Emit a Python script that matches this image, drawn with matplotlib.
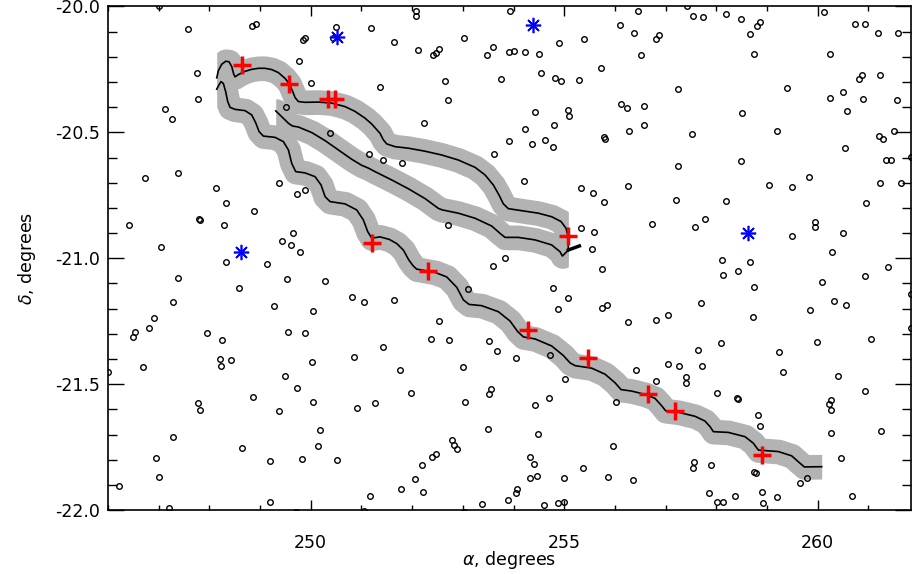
import numpy as np
import matplotlib.pyplot as plt
from matplotlib.ticker import MultipleLocator, FormatStrFormatter

# field stars (open circles), RA / Dec in degrees
star_ra = [
    247.00, 247.57, 248.85, 248.93, 250.49, 250.43, 251.18, 249.84, 249.88, 249.76,
    247.75, 250.01, 247.77, 247.13, 247.26, 249.52, 250.39, 251.14, 246.73, 247.39,
    248.14, 249.38, 249.89, 249.73, 248.33, 248.89, 247.79, 247.81, 246.41, 248.28,
    249.66, 249.43, 249.61, 249.78, 247.04,
    248.33, 249.13, 247.39, 249.53, 250.28, 248.59, 247.28, 249.27, 250.82, 251.05,
    250.04, 246.90, 246.81, 246.53, 246.50, 247.96, 248.26, 249.55, 249.88, 248.22,
    248.24, 248.43, 246.70, 246.01, 250.02, 250.85, 249.50, 249.73, 248.86, 247.77,
    247.82, 249.38, 250.05, 250.91, 251.26, 250.19, 247.28, 250.14, 248.65, 246.94,
    249.19, 249.83, 250.52, 247.00, 246.21, 249.19, 247.20, 249.70, 251.05, 251.17,
    252.07, 252.08, 253.93, 256.45, 256.10, 256.37, 256.51, 251.65, 252.12, 253.03,
    252.41, 252.48, 252.54, 253.48, 253.60, 253.92, 254.00, 254.22, 254.51, 254.90,
    255.39, 255.73, 254.54, 254.81, 254.93, 255.30, 253.76, 252.64, 251.37, 252.70,
    252.23, 254.42, 255.08, 255.09, 256.12, 256.23, 256.58, 256.57, 254.22, 254.79,
    256.28, 253.92, 254.36, 254.63, 254.77, 255.79, 255.81, 253.61, 251.43, 251.81,
    254.20, 255.34, 255.56, 255.78, 256.25, 252.71, 255.33, 255.59, 255.54, 253.83,
    257.43, 257.54, 257.73, 258.19, 258.48, 258.87, 258.81, 258.66, 258.74, 260.12,
    260.74, 260.93, 261.18, 261.59, 256.81, 256.86, 260.24, 260.87, 260.82, 261.22,
    257.25, 259.40, 260.24, 260.50, 260.89, 261.57, 260.57, 258.50, 257.53, 259.19,
    261.20, 261.29, 261.50, 260.53, 261.85, 261.35, 261.45, 257.24, 258.48, 259.83,
    259.04, 259.49, 261.23, 261.64, 257.20, 258.19, 260.95, 256.74, 257.58, 257.77,
    259.50, 259.95, 259.94, 260.49, 260.28, 258.11,
    253.60, 255.74, 254.78, 255.08, 254.87, 255.74, 255.85, 256.26, 253.11, 251.65,
    252.53, 252.37, 252.73, 251.43, 253.52, 253.68, 254.04, 254.71, 251.77, 253.01,
    255.02, 256.42, 251.97, 253.55, 253.51, 253.04, 254.43, 254.70, 256.02, 253.50,
    254.49, 252.79, 252.82, 252.89, 252.19, 252.40, 252.47, 252.05, 251.78, 252.22,
    254.33, 254.40, 254.33, 254.46, 254.99, 255.38, 255.96, 255.87, 256.35, 254.06,
    254.04, 253.90, 253.38, 254.60, 254.88, 255.00, 253.03,
    258.66, 258.43, 258.13, 258.75, 257.69, 257.05, 256.82, 258.73, 258.09, 257.64,
    257.05, 257.26, 257.71, 257.40, 257.40, 256.81, 258.02, 258.40, 258.43, 258.82,
    258.86, 259.24, 259.32, 260.08, 259.85, 260.32, 260.56, 260.93, 261.38, 261.84,
    261.85, 259.99, 261.06, 260.41, 260.94, 260.26, 260.23, 260.27, 260.27, 261.25,
    260.45, 257.56, 257.55, 257.89, 258.74, 258.79, 259.79, 259.65, 257.86, 258.02,
    258.13, 258.36, 258.91, 258.92, 259.19, 260.68,
]
star_dec = [
    -20.000, -20.089, -20.079, -20.069, -20.082, -20.127, -20.086, -20.135, -20.124, -20.217,
    -20.266, -20.306, -20.369, -20.406, -20.447, -20.399, -20.501, -20.585, -20.683, -20.660,
    -20.721, -20.701, -20.728, -20.746, -20.782, -20.811, -20.845, -20.849, -20.869, -20.866,
    -20.898, -20.933, -20.947, -20.974, -20.954,
    -21.015, -21.024, -21.078, -21.082, -21.089, -21.117, -21.175, -21.188, -21.152, -21.173,
    -21.208, -21.236, -21.277, -21.291, -21.312, -21.298, -21.323, -21.291, -21.297, -21.401,
    -21.426, -21.404, -21.431, -21.451, -21.412, -21.393, -21.467, -21.515, -21.549, -21.576,
    -21.603, -21.607, -21.569, -21.593, -21.576, -21.680, -21.708, -21.745, -21.751, -21.792,
    -21.806, -21.795, -21.799, -21.869, -21.905, -21.966, -21.992, -22.005, -22.003, -21.945,
    -20.019, -20.040, -20.020, -20.020, -20.074, -20.107, -20.193, -20.142, -20.172, -20.126,
    -20.194, -20.184, -20.168, -20.193, -20.163, -20.183, -20.177, -20.180, -20.189, -20.145,
    -20.131, -20.246, -20.266, -20.283, -20.296, -20.294, -20.287, -20.295, -20.319, -20.372,
    -20.462, -20.419, -20.413, -20.434, -20.388, -20.402, -20.394, -20.472, -20.487, -20.472,
    -20.495, -20.533, -20.548, -20.529, -20.557, -20.517, -20.528, -20.585, -20.611, -20.623,
    -20.694, -20.722, -20.742, -20.775, -20.714, -20.866, -20.878, -20.894, -20.963, -20.998,
    -19.998, -20.037, -20.042, -20.029, -20.049, -20.061, -20.079, -20.110, -20.189, -20.024,
    -20.071, -20.071, -20.107, -20.107, -20.130, -20.112, -20.190, -20.271, -20.287, -20.272,
    -20.329, -20.324, -20.365, -20.340, -20.366, -20.373, -20.415, -20.423, -20.508, -20.493,
    -20.515, -20.528, -20.495, -20.563, -20.597, -20.611, -20.611, -20.635, -20.615, -20.679,
    -20.709, -20.717, -20.702, -20.702, -20.767, -20.771, -20.780, -20.865, -20.877, -20.845,
    -20.913, -20.854, -20.876, -20.899, -20.975, -21.006,
    -21.031, -21.042, -21.119, -21.157, -21.203, -21.199, -21.185, -21.251, -21.123, -21.166,
    -21.248, -21.320, -21.326, -21.353, -21.327, -21.368, -21.397, -21.384, -21.442, -21.433,
    -21.478, -21.443, -21.534, -21.520, -21.540, -21.572, -21.584, -21.554, -21.569, -21.679,
    -21.697, -21.720, -21.741, -21.755, -21.822, -21.790, -21.775, -21.877, -21.917, -21.929,
    -21.789, -21.818, -21.871, -21.863, -21.873, -21.834, -21.744, -21.867, -21.880, -21.915,
    -21.930, -21.960, -21.976, -21.980, -21.971, -21.967, -22.005,
    -21.015, -21.049, -21.068, -21.113, -21.179, -21.224, -21.246, -21.233, -21.338, -21.363,
    -21.418, -21.426, -21.429, -21.470, -21.495, -21.486, -21.535, -21.556, -21.558, -21.620,
    -21.667, -21.373, -21.452, -21.094, -21.205, -21.169, -21.187, -21.072, -21.033, -21.142,
    -21.278, -21.332, -21.319, -21.466, -21.525, -21.562, -21.579, -21.601, -21.692, -21.685,
    -21.794, -21.807, -21.832, -21.820, -21.847, -21.853, -21.872, -21.892, -21.931, -21.968,
    -21.968, -21.944, -21.929, -21.971, -21.948, -21.943,
]

# reference stars (blue asterisks)
ref_ra = [250.51, 254.38, 248.62, 258.63]
ref_dec = [-20.120, -20.074, -20.976, -20.901]

# measured positions (red crosses)
obs_ra = [248.65, 249.58, 250.34, 250.48, 251.20, 252.31, 254.28, 255.46, 256.65, 257.19, 258.91, 255.07]
obs_dec = [-20.234, -20.308, -20.369, -20.369, -20.938, -21.049, -21.283, -21.397, -21.537, -21.605, -21.780, -20.910]

# the three predicted tracks
track1_ra = [248.146, 248.179, 248.245, 248.323, 248.389, 248.442, 248.481, 248.508, 248.573, 248.705,
             248.836, 248.968, 249.099, 249.231, 249.362, 249.494, 249.579, 249.638, 249.691, 249.757,
             249.888, 250.151, 250.414, 250.677, 250.874, 251.072, 251.203, 251.367, 251.433, 251.499,
             251.663, 251.926, 252.255, 252.583, 252.912, 253.241, 253.438, 253.602, 253.714, 253.800,
             253.898, 254.161, 254.490, 254.753, 254.937, 255.036, 255.068, 255.082]
track1_dec = [-20.284, -20.255, -20.230, -20.218, -20.220, -20.239, -20.269, -20.280, -20.271, -20.258,
              -20.250, -20.246, -20.246, -20.251, -20.263, -20.286, -20.308, -20.335, -20.362, -20.378,
              -20.381, -20.380, -20.384, -20.398, -20.417, -20.444, -20.467, -20.504, -20.530, -20.546,
              -20.557, -20.563, -20.575, -20.590, -20.610, -20.639, -20.669, -20.709, -20.749, -20.784,
              -20.803, -20.811, -20.821, -20.835, -20.854, -20.881, -20.907, -20.960]

track2_ra = [249.310, 249.428, 249.560, 249.638, 249.757, 250.020, 250.283, 250.546, 250.809, 251.006,
             251.137, 251.268, 251.597, 251.926, 252.255, 252.518, 252.597, 252.912, 253.241, 253.570,
             253.734, 253.833, 254.096, 254.425, 254.753, 254.918, 254.964, 255.082]
track2_dec = [-20.415, -20.438, -20.464, -20.475, -20.479, -20.501, -20.533, -20.570, -20.607, -20.631,
              -20.642, -20.656, -20.689, -20.724, -20.763, -20.802, -20.808, -20.821, -20.841, -20.872,
              -20.901, -20.917, -20.917, -20.927, -20.947, -20.974, -20.991, -20.967]

track3_ra = [248.146, 248.179, 248.231, 248.277, 248.323, 248.363, 248.409, 248.508, 248.705, 248.836,
             248.915, 248.981, 249.066, 249.297, 249.461, 249.560, 249.625, 249.704, 249.888, 250.085,
             250.204, 250.283, 250.381, 250.677, 250.907, 251.039, 251.124, 251.203, 251.367, 251.550,
             251.700, 251.830, 251.930, 252.020, 252.091, 252.453, 252.683, 252.880, 253.011, 253.123,
             253.373, 253.702, 253.932, 254.083, 254.195, 254.425, 254.753, 254.984, 255.115, 255.214,
             255.543, 255.806, 256.003, 256.121, 256.332, 256.594, 256.791, 256.909, 257.001, 257.251,
             257.580, 257.777, 257.876, 257.942, 258.238, 258.567, 258.731, 258.830, 259.224, 259.487,
             259.632, 259.737, 260.079]
track3_dec = [-20.329, -20.316, -20.299, -20.306, -20.339, -20.378, -20.401, -20.409, -20.414, -20.431,
              -20.462, -20.497, -20.515, -20.520, -20.537, -20.570, -20.623, -20.656, -20.661, -20.676,
              -20.709, -20.755, -20.775, -20.784, -20.808, -20.848, -20.894, -20.920, -20.915, -20.925,
              -20.942, -20.968, -21.005, -21.030, -21.043, -21.056, -21.074, -21.115, -21.165, -21.183,
              -21.188, -21.212, -21.249, -21.291, -21.312, -21.320, -21.348, -21.386, -21.415, -21.426,
              -21.436, -21.460, -21.494, -21.521, -21.527, -21.540, -21.556, -21.582, -21.605, -21.611,
              -21.627, -21.646, -21.668, -21.688, -21.691, -21.708, -21.734, -21.761, -21.767, -21.784,
              -21.810, -21.828, -21.827]

# little black stub where tracks 1 and 2 meet at the end
stub_ra = [255.082, 255.299]
stub_dec = [-20.967, -20.951]

# half size of the error ellipse that makes the grey band (deg)
band_dx = 0.24
band_dy = 0.049


def band_edges(ra, dec, dx, dy, n=2000, m=81):
    # sweep an ellipse along the track -> upper / lower envelope
    # the band is cut straight at both ends of the track
    ra = np.asarray(ra)
    dec = np.asarray(dec)
    xs = np.linspace(ra[0], ra[-1], n)
    up = np.full(n, -np.inf)
    lo = np.full(n, np.inf)
    for u in np.linspace(-dx, dx, m):
        yy = np.interp(xs + u, ra, dec, left=np.nan, right=np.nan)
        h = dy * np.sqrt(max(0.0, 1 - (u / dx) ** 2))
        up = np.fmax(up, yy + h)
        lo = np.fmin(lo, yy - h)
    return xs, lo, up


fig = plt.figure(figsize=(9.13, 5.74), dpi=100)
ax = fig.add_axes([0.1182, 0.111, 0.8796, 0.878])

tracks = [(track1_ra, track1_dec), (track2_ra, track2_dec), (track3_ra, track3_dec)]
for ra, dec in tracks:
    xs, lo, up = band_edges(ra, dec, band_dx, band_dy)
    ax.fill_between(xs, lo, up, color='#b3b3b3', lw=0, zorder=1)
for ra, dec in tracks:
    ax.plot(ra, dec, color='black', lw=1.2, zorder=2)
ax.plot(stub_ra, stub_dec, color='black', lw=2.5, zorder=2)

ax.plot(star_ra, star_dec, 'o', mfc='none', mec='black', ms=4, mew=1.0, zorder=3)
ax.plot(ref_ra, ref_dec, ls='none', marker=(8, 2, 0), color='blue', ms=11, mew=1.2, zorder=4)
ax.plot(obs_ra, obs_dec, '+', color='red', ms=13, mew=2.5, zorder=5)

ax.set_xlim(246, 261.84)
ax.set_ylim(-22.0, -20.0)

ax.xaxis.set_major_locator(MultipleLocator(5))
ax.xaxis.set_minor_locator(MultipleLocator(1))
ax.yaxis.set_major_locator(MultipleLocator(0.5))
ax.yaxis.set_minor_locator(MultipleLocator(0.1))
ax.yaxis.set_major_formatter(FormatStrFormatter('%.1f'))

ax.tick_params(which='both', direction='in', top=True, right=True, width=1.0, labelsize=12.5)
ax.tick_params(axis='x', which='major', length=7, pad=17)
ax.tick_params(axis='x', which='minor', length=3.6)
ax.tick_params(axis='y', which='major', length=11.5, pad=6)
ax.tick_params(axis='y', which='minor', length=6.5)
for s in ax.spines.values():
    s.set_linewidth(1.2)

ax.set_xlabel(r'$\alpha$, degrees', fontsize=12.5, labelpad=-2)
ax.set_ylabel(r'$\delta$, degrees', fontsize=12.5, labelpad=12)

plt.savefig('out.png', dpi=100)
